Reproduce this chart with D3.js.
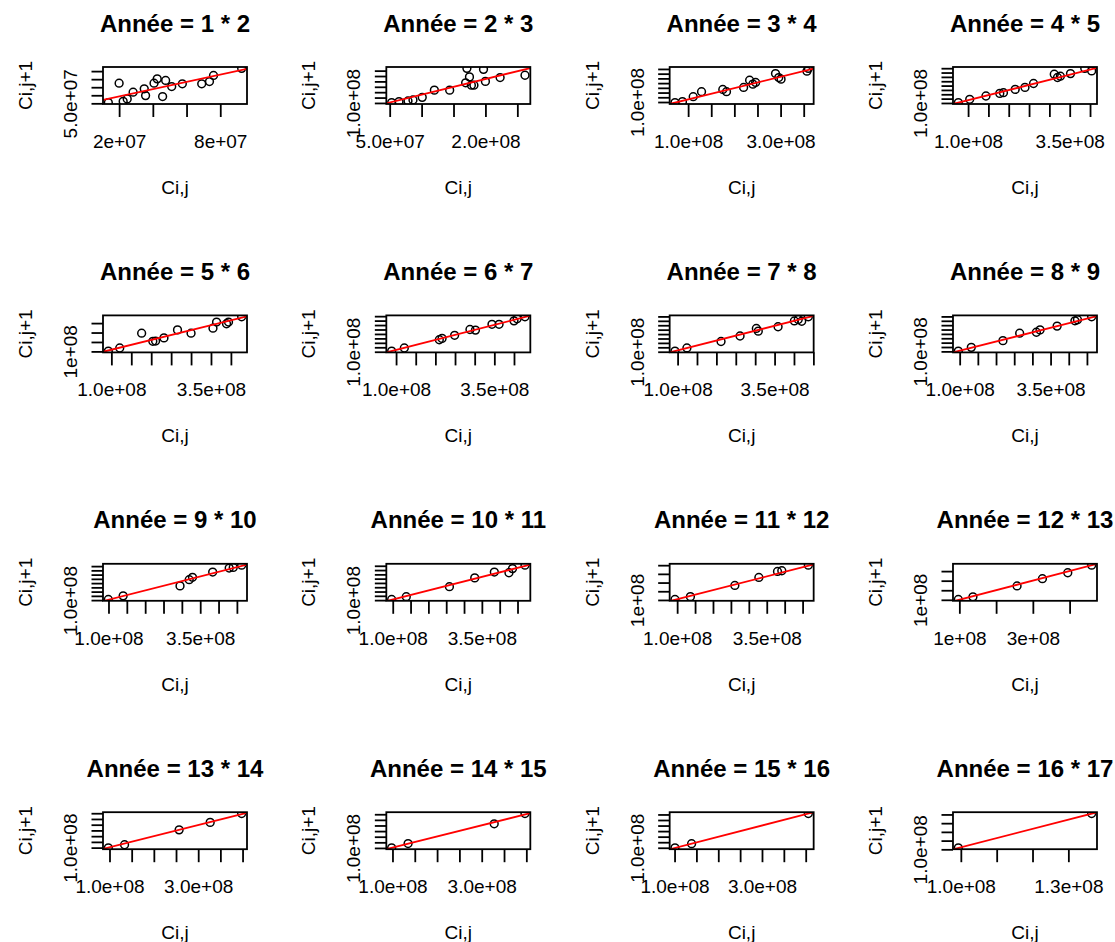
<!DOCTYPE html>
<html>
<head>
<meta charset="utf-8">
<script src="https://cdn.jsdelivr.net/npm/d3@7"></script>
<style>
  body { margin: 0; background: #fff; }
  svg { display: block; }
</style>
</head>
<body>
<svg id="chart" width="1115" height="942"></svg>
<script>
// Development periods: panel k plots C(i,k+1) against C(i,k)
const developmentYears = [1, 2, 3, 4, 5, 6, 7, 8, 9, 10, 11, 12, 13, 14, 15, 16];

// Cumulative amounts C(i,j) for each panel
const xValues = [
  [1.36e7, 2.0e7, 2.24e7, 2.48e7, 2.83e7, 3.49e7, 3.57e7, 4.07e7, 4.26e7, 4.58e7, 4.76e7, 5.12e7, 5.75e7, 6.9e7, 7.36e7, 7.6e7, 9.27e7],
  [5.31e7, 6.46e7, 7.87e7, 8.65e7, 1.01e8, 1.20e8, 1.44e8, 1.69e8, 1.71e8, 1.75e8, 1.78e8, 1.82e8, 1.97e8, 2.0e8, 2.23e8, 2.62e8],
  [7.16e7, 8.77e7, 1.11e8, 1.29e8, 1.75e8, 1.83e8, 2.2e8, 2.33e8, 2.40e8, 2.46e8, 2.89e8, 2.96e8, 3.01e8, 3.57e8, 3.6e8],
  [7.6e7, 1.04e8, 1.44e8, 1.78e8, 1.87e8, 2.16e8, 2.4e8, 2.61e8, 3.12e8, 3.2e8, 3.27e8, 3.52e8, 3.87e8, 4.04e8],
  [9.24e7, 1.21e8, 1.76e8, 2.04e8, 2.11e8, 2.32e8, 2.66e8, 3.0e8, 3.55e8, 3.64e8, 3.89e8, 3.94e8, 4.27e8],
  [8.88e7, 1.21e8, 2.1e8, 2.17e8, 2.49e8, 2.88e8, 3.02e8, 3.44e8, 3.62e8, 4.0e8, 4.08e8, 4.28e8],
  [9.33e7, 1.24e8, 2.12e8, 2.61e8, 3.03e8, 3.08e8, 3.59e8, 4.01e8, 4.11e8, 4.2e8, 4.37e8],
  [9.63e7, 1.32e8, 2.19e8, 2.65e8, 3.11e8, 3.21e8, 3.68e8, 4.17e8, 4.24e8, 4.63e8],
  [9.96e7, 1.4e8, 2.95e8, 3.2e8, 3.29e8, 3.84e8, 4.29e8, 4.4e8, 4.63e8],
  [9.7e7, 1.38e8, 2.59e8, 3.3e8, 3.85e8, 4.26e8, 4.36e8, 4.71e8],
  [9.4e7, 1.37e8, 2.61e8, 3.28e8, 3.8e8, 3.92e8, 4.66e8],
  [9.72e7, 1.37e8, 2.57e8, 3.26e8, 3.95e8, 4.6e8],
  [9.74e7, 1.34e8, 2.57e8, 3.27e8, 3.98e8],
  [9.82e7, 1.35e8, 3.28e8, 3.97e8],
  [1.01e8, 1.39e8, 4.06e8],
  [9.93e7, 1.365e8]
];

// Cumulative amounts C(i,j+1) for each panel
const yValues = [
  [5.43e7, 1.75e8, 6.25e7, 7.7e7, 1.19e8, 1.40e8, 9.8e7, 1.75e8, 2.02e8, 9.2e7, 1.92e8, 1.54e8, 1.71e8, 1.71e8, 1.85e8, 2.23e8, 2.67e8],
  [1.03e8, 1.12e8, 1.18e8, 1.28e8, 1.52e8, 2.19e8, 2.19e8, 2.87e8, 4.21e8, 3.42e8, 2.65e8, 2.65e8, 4.12e8, 3.0e8, 3.36e8, 3.57e8],
  [9.35e7, 1.04e8, 1.56e8, 2.09e8, 2.33e8, 2.09e8, 2.54e8, 3.31e8, 2.89e8, 3.07e8, 4.01e8, 3.59e8, 3.42e8, 4.26e8, 4.56e8],
  [1.04e8, 1.42e8, 1.8e8, 2.1e8, 2.18e8, 2.56e8, 2.79e8, 3.24e8, 4.31e8, 3.93e8, 4.08e8, 4.38e8, 4.98e8, 4.69e8],
  [1.04e8, 1.36e8, 2.93e8, 2.07e8, 2.1e8, 2.43e8, 3.28e8, 2.93e8, 3.46e8, 4.11e8, 3.93e8, 4.11e8, 4.67e8],
  [1.08e8, 1.42e8, 2.35e8, 2.5e8, 2.85e8, 3.5e8, 3.43e8, 4.08e8, 4.08e8, 4.47e8, 4.7e8, 4.93e8],
  [1.08e8, 1.43e8, 2.16e8, 2.78e8, 3.64e8, 3.33e8, 3.83e8, 4.49e8, 4.65e8, 4.45e8, 4.96e8],
  [1.04e8, 1.46e8, 2.23e8, 3.08e8, 3.19e8, 3.46e8, 3.89e8, 4.5e8, 4.62e8, 4.96e8],
  [1.08e8, 1.5e8, 2.67e8, 3.4e8, 3.68e8, 4.3e8, 4.77e8, 4.84e8, 5.11e8],
  [1.08e8, 1.4e8, 2.56e8, 3.59e8, 4.27e8, 4.19e8, 4.67e8, 5.07e8],
  [1.06e8, 1.38e8, 2.67e8, 3.59e8, 4.28e8, 4.36e8, 5.0e8],
  [1.04e8, 1.31e8, 2.45e8, 3.21e8, 3.83e8, 4.62e8],
  [9.82e7, 1.25e8, 2.55e8, 3.2e8, 3.97e8],
  [1.01e8, 1.39e8, 3.15e8, 4.06e8],
  [9.93e7, 1.365e8, 4.08e8],
  [1.017e8, 1.41e8]
];

// Fitted straight line y = a + b x for each panel
const fitIntercept = [4.7e7, 3.2e7, 7e6, 1.5e7, 1.4e7, 7e6, 3.3e6, 2.9e6, -5e6, 1.2e6, 3e6, 4e5, 6e6, 5e6, -3.7e6, -3.6e6];
const fitSlope = [2.27, 1.45, 1.2, 1.17, 1.04, 1.13, 1.116, 1.05, 1.097, 1.055, 1.05, 1.0, 0.97, 0.99, 1.014, 1.059];

// Axis ticks (an empty label is a tick whose label is left out)
const xTickValues = [
  [2e7, 4e7, 6e7, 8e7],
  [5e7, 1e8, 1.5e8, 2e8, 2.5e8],
  [1e8, 1.5e8, 2e8, 2.5e8, 3e8, 3.5e8],
  [1e8, 1.5e8, 2e8, 2.5e8, 3e8, 3.5e8, 4e8],
  [1e8, 1.5e8, 2e8, 2.5e8, 3e8, 3.5e8, 4e8],
  [1e8, 1.5e8, 2e8, 2.5e8, 3e8, 3.5e8, 4e8],
  [1e8, 1.5e8, 2e8, 2.5e8, 3e8, 3.5e8, 4e8, 4.5e8],
  [1e8, 1.5e8, 2e8, 2.5e8, 3e8, 3.5e8, 4e8, 4.5e8],
  [1e8, 1.5e8, 2e8, 2.5e8, 3e8, 3.5e8, 4e8, 4.5e8],
  [1e8, 1.5e8, 2e8, 2.5e8, 3e8, 3.5e8, 4e8, 4.5e8],
  [1e8, 1.5e8, 2e8, 2.5e8, 3e8, 3.5e8, 4e8, 4.5e8],
  [1e8, 2e8, 3e8, 4e8],
  [1e8, 1.5e8, 2e8, 2.5e8, 3e8, 3.5e8, 4e8],
  [1e8, 1.5e8, 2e8, 2.5e8, 3e8, 3.5e8, 4e8],
  [1e8, 1.5e8, 2e8, 2.5e8, 3e8, 3.5e8, 4e8],
  [1.0e8, 1.1e8, 1.2e8, 1.3e8]
];
const xTickLabels = [
  ["2e+07", "", "", "8e+07"],
  ["5.0e+07", "", "", "2.0e+08", ""],
  ["1.0e+08", "", "", "", "3.0e+08", ""],
  ["1.0e+08", "", "", "", "", "3.5e+08", ""],
  ["1.0e+08", "", "", "", "", "3.5e+08", ""],
  ["1.0e+08", "", "", "", "", "3.5e+08", ""],
  ["1.0e+08", "", "", "", "", "3.5e+08", "", ""],
  ["1.0e+08", "", "", "", "", "3.5e+08", "", ""],
  ["1.0e+08", "", "", "", "", "3.5e+08", "", ""],
  ["1.0e+08", "", "", "", "", "3.5e+08", "", ""],
  ["1.0e+08", "", "", "", "", "3.5e+08", "", ""],
  ["1e+08", "", "3e+08", ""],
  ["1.0e+08", "", "", "", "3.0e+08", "", ""],
  ["1.0e+08", "", "", "", "3.0e+08", "", ""],
  ["1.0e+08", "", "", "", "3.0e+08", "", ""],
  ["1.0e+08", "", "", "1.3e+08"]
];
const yTickValues = [
  [5e7, 1e8, 1.5e8, 2e8, 2.5e8],
  [1e8, 1.5e8, 2e8, 2.5e8, 3e8, 3.5e8, 4e8],
  [1e8, 1.5e8, 2e8, 2.5e8, 3e8, 3.5e8, 4e8, 4.5e8],
  [1e8, 1.5e8, 2e8, 2.5e8, 3e8, 3.5e8, 4e8, 4.5e8, 5e8],
  [1e8, 2e8, 3e8, 4e8],
  [1e8, 1.5e8, 2e8, 2.5e8, 3e8, 3.5e8, 4e8, 4.5e8, 5e8],
  [1e8, 1.5e8, 2e8, 2.5e8, 3e8, 3.5e8, 4e8, 4.5e8, 5e8],
  [1e8, 1.5e8, 2e8, 2.5e8, 3e8, 3.5e8, 4e8, 4.5e8, 5e8],
  [1e8, 1.5e8, 2e8, 2.5e8, 3e8, 3.5e8, 4e8, 4.5e8, 5e8],
  [1e8, 1.5e8, 2e8, 2.5e8, 3e8, 3.5e8, 4e8, 4.5e8, 5e8],
  [1e8, 2e8, 3e8, 4e8, 5e8],
  [1e8, 2e8, 3e8, 4e8],
  [1e8, 1.5e8, 2e8, 2.5e8, 3e8, 3.5e8, 4e8],
  [1e8, 1.5e8, 2e8, 2.5e8, 3e8, 3.5e8, 4e8],
  [1e8, 1.5e8, 2e8, 2.5e8, 3e8, 3.5e8, 4e8],
  [1.0e8, 1.1e8, 1.2e8, 1.3e8, 1.4e8]
];
const yTickLabels = [
  "5.0e+07", "1.0e+08", "1.0e+08", "1.0e+08", "1e+08", "1.0e+08", "1.0e+08", "1.0e+08",
  "1.0e+08", "1.0e+08", "1e+08", "1e+08", "1.0e+08", "1.0e+08", "1.0e+08", "1.0e+08"
];

const xLabel = "Ci,j";
const yLabel = "Ci,j+1";

// Panel grid geometry
const cellW = 283.33, cellH = 248.4;
const boxLeft = 103, boxTop = 67, boxW = 144, boxH = 37;
const fontFamily = '"Liberation Sans", Arial, Helvetica, sans-serif';
const lineW = 1.8;

const svg = d3.select("#chart");

// Axis range padded by 4% on each side
function paddedExtent(values) {
  const [lo, hi] = d3.extent(values);
  const pad = (hi - lo) * 0.04;
  return [lo - pad, hi + pad];
}

developmentYears.forEach((k, i) => {
  const col = i % 4, row = Math.floor(i / 4);
  const left = col * cellW + boxLeft;
  const top = boxTop + row * cellH;
  const right = left + boxW, bottom = top + boxH;

  const x = d3.scaleLinear().domain(paddedExtent(xValues[i])).range([left, right]);
  const y = d3.scaleLinear().domain(paddedExtent(yValues[i])).range([bottom, top]);

  const g = svg.append("g").attr("font-family", fontFamily);

  const clipId = "plot-clip-" + i;
  g.append("clipPath").attr("id", clipId)
    .append("rect").attr("x", left).attr("y", top).attr("width", boxW).attr("height", boxH);

  const plotArea = g.append("g").attr("clip-path", `url(#${clipId})`);

  // Observations
  plotArea.selectAll("circle")
    .data(d3.zip(xValues[i], yValues[i]))
    .join("circle")
    .attr("cx", d => x(d[0]))
    .attr("cy", d => y(d[1]))
    .attr("r", 3.9)
    .attr("fill", "none")
    .attr("stroke", "#000")
    .attr("stroke-width", 1.5);

  // Bottom axis
  const xAxis = g.append("g")
    .attr("transform", `translate(0,${bottom})`)
    .call(d3.axisBottom(x)
      .tickValues(xTickValues[i])
      .tickFormat((d, j) => xTickLabels[i][j])
      .tickSize(13)
      .tickPadding(17.5));
  xAxis.select(".domain").remove();
  xAxis.attr("font-size", 19).attr("font-family", fontFamily);
  xAxis.selectAll("line").attr("stroke-width", lineW);

  // Left axis, labels written along the axis
  const yAxis = g.append("g")
    .attr("transform", `translate(${left},0)`)
    .call(d3.axisLeft(y)
      .tickValues(yTickValues[i])
      .tickFormat((d, j) => (j === 0 ? yTickLabels[i] : ""))
      .tickSize(11.5));
  yAxis.select(".domain").remove();
  yAxis.attr("font-size", 19).attr("font-family", fontFamily);
  yAxis.selectAll("line").attr("stroke-width", lineW);
  yAxis.selectAll("text")
    .attr("x", null)
    .attr("dy", null)
    .attr("text-anchor", "middle")
    .attr("transform", "translate(-26,0) rotate(-90)");

  // Plot frame
  g.append("rect")
    .attr("x", left).attr("y", top)
    .attr("width", boxW).attr("height", boxH)
    .attr("fill", "none")
    .attr("stroke", "#000")
    .attr("stroke-width", lineW);

  // Fitted line
  const [x0, x1] = x.domain();
  plotArea.append("line")
    .attr("x1", x(x0)).attr("y1", y(fitIntercept[i] + fitSlope[i] * x0))
    .attr("x2", x(x1)).attr("y2", y(fitIntercept[i] + fitSlope[i] * x1))
    .attr("stroke", "#ff0000")
    .attr("stroke-width", lineW);

  // Titles
  g.append("text")
    .attr("x", (left + right) / 2)
    .attr("y", top - 35.5)
    .attr("text-anchor", "middle")
    .attr("font-size", 24)
    .attr("font-weight", "bold")
    .text(`Année = ${k} * ${k + 1}`);

  g.append("text")
    .attr("x", (left + right) / 2)
    .attr("y", bottom + 90)
    .attr("text-anchor", "middle")
    .attr("font-size", 19)
    .text(xLabel);

  g.append("text")
    .attr("transform", `translate(${left - 71},${(top + bottom) / 2}) rotate(-90)`)
    .attr("text-anchor", "middle")
    .attr("font-size", 19)
    .text(yLabel);
});
</script>
</body>
</html>
